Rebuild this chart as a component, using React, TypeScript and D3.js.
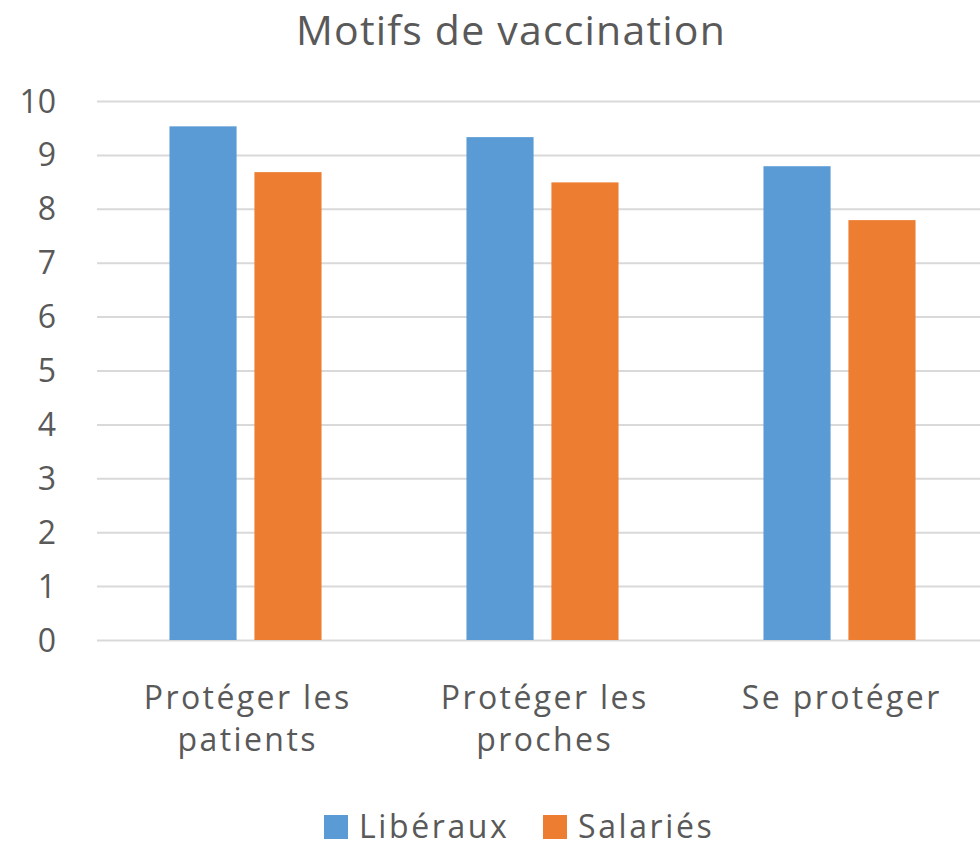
import React, { useEffect, useRef } from "react";
import * as d3 from "d3";

const categories = ["Protéger les patients", "Protéger les proches", "Se protéger"];
const seriesNames = ["Libéraux", "Salariés"];
const liberaux = [9.53, 9.33, 8.79];
const salaries = [8.68, 8.49, 7.79];
const yTicks = [0, 1, 2, 3, 4, 5, 6, 7, 8, 9, 10];
const colors = ["#5B9BD5", "#ED7D31"];

export default function App() {
  const ref = useRef<SVGSVGElement>(null);

  useEffect(() => {
    const font = "'Open Sans', Lato, sans-serif";
    const textColor = "#595959";
    const svg = d3.select(ref.current);
    svg.selectAll("*").remove();

    const top = 101;
    const bottom = 640;
    const left = 97;
    const right = 988;
    const spacing = 2.4;

    const x0 = d3
      .scaleBand()
      .domain(categories)
      .range([left, right])
      .paddingInner(0.488)
      .paddingOuter(0.244);
    const x1 = d3
      .scaleBand()
      .domain(seriesNames)
      .range([0, x0.bandwidth()])
      .paddingInner(0.21);
    const y = d3.scaleLinear().domain([0, 10]).range([bottom, top]);

    // title
    svg
      .append("text")
      .attr("x", 511)
      .attr("y", 45)
      .attr("text-anchor", "middle")
      .attr("font-family", font)
      .attr("font-size", 41)
      .attr("letter-spacing", 1.2)
      .attr("fill", textColor)
      .text("Motifs de vaccination");

    // grid
    svg
      .append("g")
      .attr("transform", `translate(${left},0)`)
      .call(d3.axisLeft(y).tickValues(yTicks).tickSize(-(right - left)).tickFormat(() => ""))
      .call((g) => g.select(".domain").remove())
      .call((g) => g.selectAll("line").attr("stroke", "#d9d9d9").attr("stroke-width", 2));

    // y labels
    svg
      .append("g")
      .selectAll("text")
      .data(yTicks)
      .enter()
      .append("text")
      .attr("x", 56)
      .attr("y", (d) => y(d))
      .attr("dy", "0.36em")
      .attr("text-anchor", "end")
      .attr("font-family", font)
      .attr("font-size", 32)
      .attr("fill", textColor)
      .text((d) => d);

    const rows = categories.map((c, i) => ({ c, vals: [liberaux[i], salaries[i]] }));

    const groups = svg
      .append("g")
      .selectAll("g")
      .data(rows)
      .enter()
      .append("g")
      .attr("transform", (d) => `translate(${x0(d.c)},0)`);

    groups
      .selectAll("rect")
      .data((d) => d.vals.map((v, j) => ({ name: seriesNames[j], v, j })))
      .enter()
      .append("rect")
      .attr("x", (d) => x1(d.name)!)
      .attr("y", (d) => y(d.v))
      .attr("width", x1.bandwidth())
      .attr("height", (d) => bottom - y(d.v))
      .attr("fill", (d) => colors[d.j]);

    // category labels, wrapped
    const maxW = 260;
    categories.forEach((c) => {
      const cx = x0(c)! + x0.bandwidth() / 2 + 1 + spacing / 2;
      const t = svg
        .append("text")
        .attr("text-anchor", "middle")
        .attr("font-family", font)
        .attr("font-size", 32)
        .attr("letter-spacing", spacing)
        .attr("fill", textColor);
      const words = c.split(" ");
      let line: string[] = [];
      let lineNo = 0;
      let tspan = t.append("tspan").attr("x", cx).attr("y", 709);
      words.forEach((w) => {
        line.push(w);
        tspan.text(line.join(" "));
        if ((tspan.node() as SVGTextContentElement).getComputedTextLength() > maxW && line.length > 1) {
          line.pop();
          tspan.text(line.join(" "));
          line = [w];
          lineNo++;
          tspan = t.append("tspan").attr("x", cx).attr("y", 709 + lineNo * 42).text(w);
        }
      });
    });

    // legend
    const legend = svg.append("g");
    const legendX = [324, 543];
    seriesNames.forEach((s, i) => {
      legend
        .append("rect")
        .attr("x", legendX[i])
        .attr("y", 815)
        .attr("width", 24)
        .attr("height", 24)
        .attr("fill", colors[i]);
      legend
        .append("text")
        .attr("x", legendX[i] + 35)
        .attr("y", 838)
        .attr("font-family", font)
        .attr("font-size", 32)
        .attr("letter-spacing", 2.6)
        .attr("fill", textColor)
        .text(s);
    });
  }, []);

  return (
    <svg
      ref={ref}
      width={980}
      height={848}
      style={{ position: "absolute", left: 0, top: 0, background: "#fff" }}
    />
  );
}
